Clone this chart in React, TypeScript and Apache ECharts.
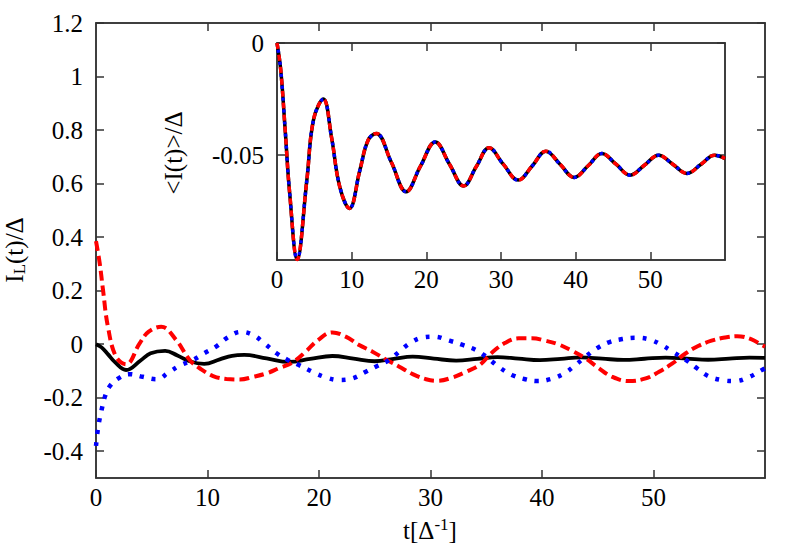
import React, { useEffect, useRef } from "react";
import * as echarts from "echarts";

// ---- data ----
// average current <I(t)>/Δ (black solid in main plot, all three curves in the inset)
const avgCurve: number[][] = [
  [0, 0], [0.5, -0.012], [1.1, -0.039], [1.7, -0.067], [2.7, -0.0965], [4.0, -0.061],
  [4.9, -0.034], [6.2, -0.025], [7.3, -0.042], [8.4, -0.064], [9.7, -0.0737], [11.1, -0.0567],
  [12.2, -0.0433], [13.3, -0.0403], [15.3, -0.053], [17.3, -0.0663], [19.2, -0.055], [21.2, -0.0441],
  [23.1, -0.054], [25.0, -0.0637], [26.7, -0.055], [28.4, -0.0467], [30.3, -0.054], [32.3, -0.0611],
  [34.2, -0.0547], [36.0, -0.0482], [37.9, -0.054], [39.8, -0.0599], [41.7, -0.0546], [43.5, -0.0492],
  [45.4, -0.054], [47.3, -0.0589], [49.2, -0.0545], [51.1, -0.05], [53.0, -0.054], [54.9, -0.0581],
  [56.8, -0.054], [58.6, -0.05], [60, -0.0515],
];

// red dashed curve
const redCurve: number[][] = [
  [0, 0.385], [0.33, 0.303], [0.63, 0.202], [1.07, 0.065], [1.8, -0.047], [2.7, -0.075],
  [3.9, 0.002], [4.7, 0.046], [5.85, 0.065], [7.2, 0.015], [8.4, -0.059], [9.3, -0.09],
  [10.5, -0.119], [11.7, -0.13], [12.9, -0.132], [14.1, -0.122], [15.3, -0.109], [16.4, -0.09],
  [17.6, -0.069], [18.8, -0.028], [19.9, 0.015], [21.2, 0.044], [22.4, 0.028], [23.6, -0.003],
  [24.8, -0.028], [26.0, -0.057], [27.2, -0.084], [28.4, -0.112], [29.6, -0.131], [30.6, -0.137],
  [32.0, -0.124], [33.2, -0.103], [34.4, -0.078], [35.5, -0.032], [36.7, 0.005], [37.9, 0.022],
  [39.1, 0.022], [40.3, 0.013], [41.5, -0.001], [42.7, -0.025], [43.9, -0.053], [45.1, -0.09],
  [46.3, -0.122], [47.8, -0.138], [49.3, -0.128], [50.5, -0.103], [51.7, -0.072], [52.9, -0.034],
  [54.0, -0.007], [55.2, 0.013], [56.4, 0.025], [57.5, 0.03], [58.8, 0.018], [59.7, -0.003], [60, -0.009],
];

// blue dotted curve
const blueCurve: number[][] = [
  [0, -0.38], [0.2, -0.309], [0.5, -0.246], [0.8, -0.196], [1.2, -0.159], [2.0, -0.128],
  [3.0, -0.112], [4.2, -0.122], [5.4, -0.131], [6.6, -0.103], [7.6, -0.078], [8.7, -0.059],
  [9.7, -0.034], [10.8, -0.008], [11.8, 0.025], [13.0, 0.046], [14.1, 0.034], [15.1, 0.003],
  [16.2, -0.034], [17.2, -0.059], [18.2, -0.078], [19.4, -0.103], [20.6, -0.124], [21.8, -0.134],
  [23.0, -0.128], [24.2, -0.103], [25.1, -0.084], [26.3, -0.059], [27.2, -0.028], [28.2, 0.005],
  [29.3, 0.025], [30.3, 0.028], [31.7, 0.013], [32.9, -0.003], [34.1, -0.022], [35.0, -0.047],
  [36.1, -0.084], [37.3, -0.115], [38.5, -0.131], [39.6, -0.138], [40.8, -0.13], [42.0, -0.109],
  [43.0, -0.078], [43.9, -0.047], [44.9, -0.016], [46.0, 0.007], [47.2, 0.019], [48.4, 0.024],
  [49.6, 0.018], [50.6, 0.0], [51.7, -0.028], [52.9, -0.059], [53.9, -0.09], [54.9, -0.119],
  [56.1, -0.134], [57.3, -0.138], [58.5, -0.124], [59.7, -0.097], [60, -0.09],
];

// axis ticks
const mainXTicks = [0, 10, 20, 30, 40, 50];
const mainXTopTicks = [10, 20, 30, 40, 50];
const mainYTicks = [-0.4, -0.2, 0, 0.2, 0.4, 0.6, 0.8, 1, 1.2];
const insetXTicks = [0, 10, 20, 30, 40, 50];
const insetYTicks = [-0.05, 0];

const FONT = "Liberation Serif";
const FS = 25;
const AX = "#333";

function fmt(v: number) {
  return String(Math.round(v * 1000) / 1000);
}

export default function App() {
  const ref = useRef<HTMLDivElement>(null);
  useEffect(() => {
    if (!ref.current) return;
    const chart = echarts.init(ref.current, undefined, { renderer: "svg" });

    const lbl = { fontFamily: FONT, fontSize: FS, color: "#000" };
    const line = { onZero: false, lineStyle: { color: AX, width: 1.5 } };
    const tick = (vals: number[]) => ({
      show: true,
      inside: true,
      length: 8,
      customValues: vals,
      lineStyle: { color: AX, width: 1.5 },
    });

    const option: any = {
      animation: false,
      backgroundColor: "#fff",
      textStyle: { fontFamily: FONT, fontSize: FS, color: "#000" },
      grid: [
        { left: 96, right: 35, top: 23, bottom: 82, show: true, borderColor: AX, borderWidth: 1.5, backgroundColor: "transparent" },
        { left: 277, right: 75, top: 43, bottom: 300, show: true, borderColor: AX, borderWidth: 1.5, backgroundColor: "#fff" },
      ],
      xAxis: [
        { type: "value", gridIndex: 0, min: 0, max: 60, position: "bottom", axisLine: line, splitLine: { show: false },
          axisTick: tick(mainXTicks), axisLabel: { ...lbl, margin: 7, customValues: mainXTicks, formatter: fmt } },
        { type: "value", gridIndex: 0, min: 0, max: 60, position: "top", axisLine: line, splitLine: { show: false },
          axisTick: tick(mainXTopTicks), axisLabel: { show: false } },
        { type: "value", gridIndex: 1, min: 0, max: 60, position: "bottom", axisLine: line, splitLine: { show: false },
          axisTick: tick(insetXTicks), axisLabel: { ...lbl, margin: 7, customValues: insetXTicks, formatter: fmt } },
        { type: "value", gridIndex: 1, min: 0, max: 60, position: "top", axisLine: line, splitLine: { show: false },
          axisTick: tick(insetXTicks), axisLabel: { show: false } },
      ],
      yAxis: [
        { type: "value", gridIndex: 0, min: -0.5, max: 1.2, position: "left", axisLine: line, splitLine: { show: false },
          axisTick: tick(mainYTicks), axisLabel: { ...lbl, margin: 13, customValues: mainYTicks, formatter: fmt } },
        { type: "value", gridIndex: 0, min: -0.5, max: 1.2, position: "right", axisLine: line, splitLine: { show: false },
          axisTick: tick(mainYTicks), axisLabel: { show: false } },
        { type: "value", gridIndex: 1, min: -0.0967, max: 0, position: "left", axisLine: line, splitLine: { show: false },
          axisTick: tick(insetYTicks), axisLabel: { ...lbl, margin: 13, customValues: insetYTicks, formatter: fmt } },
        { type: "value", gridIndex: 1, min: -0.0967, max: 0, position: "right", axisLine: line, splitLine: { show: false },
          axisTick: tick(insetYTicks), axisLabel: { show: false } },
      ],
      series: [
        { type: "line", xAxisIndex: 0, yAxisIndex: 0, data: avgCurve, smooth: 0.4, showSymbol: false,
          lineStyle: { color: "#000", width: 3.8 } },
        { type: "line", xAxisIndex: 0, yAxisIndex: 0, data: redCurve, smooth: 0.4, showSymbol: false,
          lineStyle: { color: "#ff0000", width: 4, type: [10, 5], cap: "butt" } },
        { type: "line", xAxisIndex: 0, yAxisIndex: 0, data: blueCurve, smooth: 0.4, showSymbol: false,
          lineStyle: { color: "#0000ff", width: 4.5, type: [4, 8], cap: "butt" } },
        { type: "line", xAxisIndex: 2, yAxisIndex: 2, data: avgCurve, smooth: 0.4, showSymbol: false,
          lineStyle: { color: "#000", width: 3.5 } },
        { type: "line", xAxisIndex: 2, yAxisIndex: 2, data: avgCurve, smooth: 0.4, showSymbol: false,
          lineStyle: { color: "#ff0000", width: 3.5, type: [6, 6], cap: "butt" } },
        { type: "line", xAxisIndex: 2, yAxisIndex: 2, data: avgCurve, smooth: 0.4, showSymbol: false,
          lineStyle: { color: "#0000ff", width: 3.5, type: [3, 9], dashOffset: -7, cap: "butt" } },
      ],
      graphic: [
        { type: "text", x: 14, y: 250, rotation: Math.PI / 2,
          style: { text: "{m|I}{s|L}{m|(t)/Δ}", align: "center", verticalAlign: "middle", fill: "#000",
            rich: { m: { fontFamily: FONT, fontSize: FS, lineHeight: 28 }, s: { fontFamily: FONT, fontSize: 17, lineHeight: 17, verticalAlign: "bottom" } } } },
        { type: "text", x: 430, y: 530,
          style: { text: "{m|t[Δ}{s|-1}{m|]}", align: "center", verticalAlign: "middle", fill: "#000",
            rich: { m: { fontFamily: FONT, fontSize: FS, lineHeight: 28 }, s: { fontFamily: FONT, fontSize: 17, lineHeight: 17, verticalAlign: "top" } } } },
        { type: "text", x: 173, y: 153, rotation: Math.PI / 2,
          style: { text: "<I(t)>/Δ", align: "center", verticalAlign: "middle", fill: "#000", fontFamily: FONT, fontSize: FS } },
      ],
    };
    chart.setOption(option);
    return () => chart.dispose();
  }, []);
  return <div ref={ref} style={{ position: "fixed", left: 0, top: 0, width: 800, height: 560, background: "#fff" }} />;
}
